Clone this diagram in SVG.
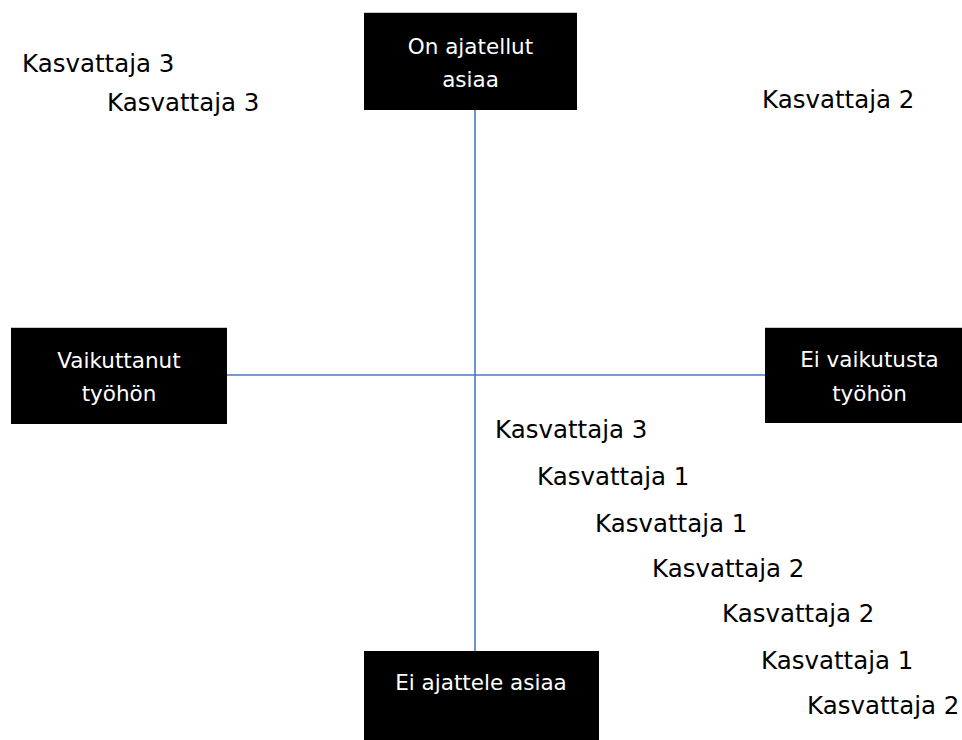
<svg xmlns="http://www.w3.org/2000/svg" width="962" height="740" viewBox="0 0 962 740">
<style>
.box{fill:#000}
.edge{stroke:#c8c8c8;stroke-width:1}
.bt{fill:#fff;font-family:"DejaVu Sans",sans-serif;font-size:21.5px;text-anchor:middle}
.lb{fill:#000;font-family:"DejaVu Sans",sans-serif;font-size:24.5px}
.ax{stroke:#4a78c0;stroke-width:1.6;fill:none}
</style>
<rect width="962" height="740" fill="#fff"/>
<g id="connectors">
<line class="ax" x1="475" y1="110" x2="475" y2="651"/>
<line class="ax" x1="227" y1="375" x2="765" y2="375"/>
</g>
<g id="n-top">
<rect class="box" x="364" y="13" width="213" height="97"/>
<line class="edge" x1="364" y1="12.5" x2="577" y2="12.5"/>
<text class="bt" x="470.5" y="54">On ajatellut</text>
<text class="bt" x="470.5" y="87">asiaa</text>
</g>
<g id="n-left">
<rect class="box" x="11" y="328" width="216" height="96"/>
<line class="edge" x1="11" y1="327.5" x2="227" y2="327.5"/>
<text class="bt" x="119" y="368">Vaikuttanut</text>
<text class="bt" x="119" y="401">työhön</text>
</g>
<g id="n-right">
<rect class="box" x="765" y="328" width="210" height="95"/>
<line class="edge" x1="765" y1="327.5" x2="962" y2="327.5"/>
<text class="bt" x="869.5" y="367">Ei vaikutusta</text>
<text class="bt" x="869.5" y="401">työhön</text>
</g>
<g id="n-bottom">
<rect class="box" x="364" y="651" width="235" height="95"/>
<text class="bt" x="481" y="690">Ei ajattele asiaa</text>
</g>
<g id="labels">
<text class="lb" x="22" y="72">Kasvattaja 3</text>
<text class="lb" x="107" y="111">Kasvattaja 3</text>
<text class="lb" x="762" y="108">Kasvattaja 2</text>
<text class="lb" x="495" y="438">Kasvattaja 3</text>
<text class="lb" x="537" y="485">Kasvattaja 1</text>
<text class="lb" x="595" y="532">Kasvattaja 1</text>
<text class="lb" x="652" y="577">Kasvattaja 2</text>
<text class="lb" x="722" y="622">Kasvattaja 2</text>
<text class="lb" x="761" y="669">Kasvattaja 1</text>
<text class="lb" x="807" y="714">Kasvattaja 2</text>
</g>
</svg>
